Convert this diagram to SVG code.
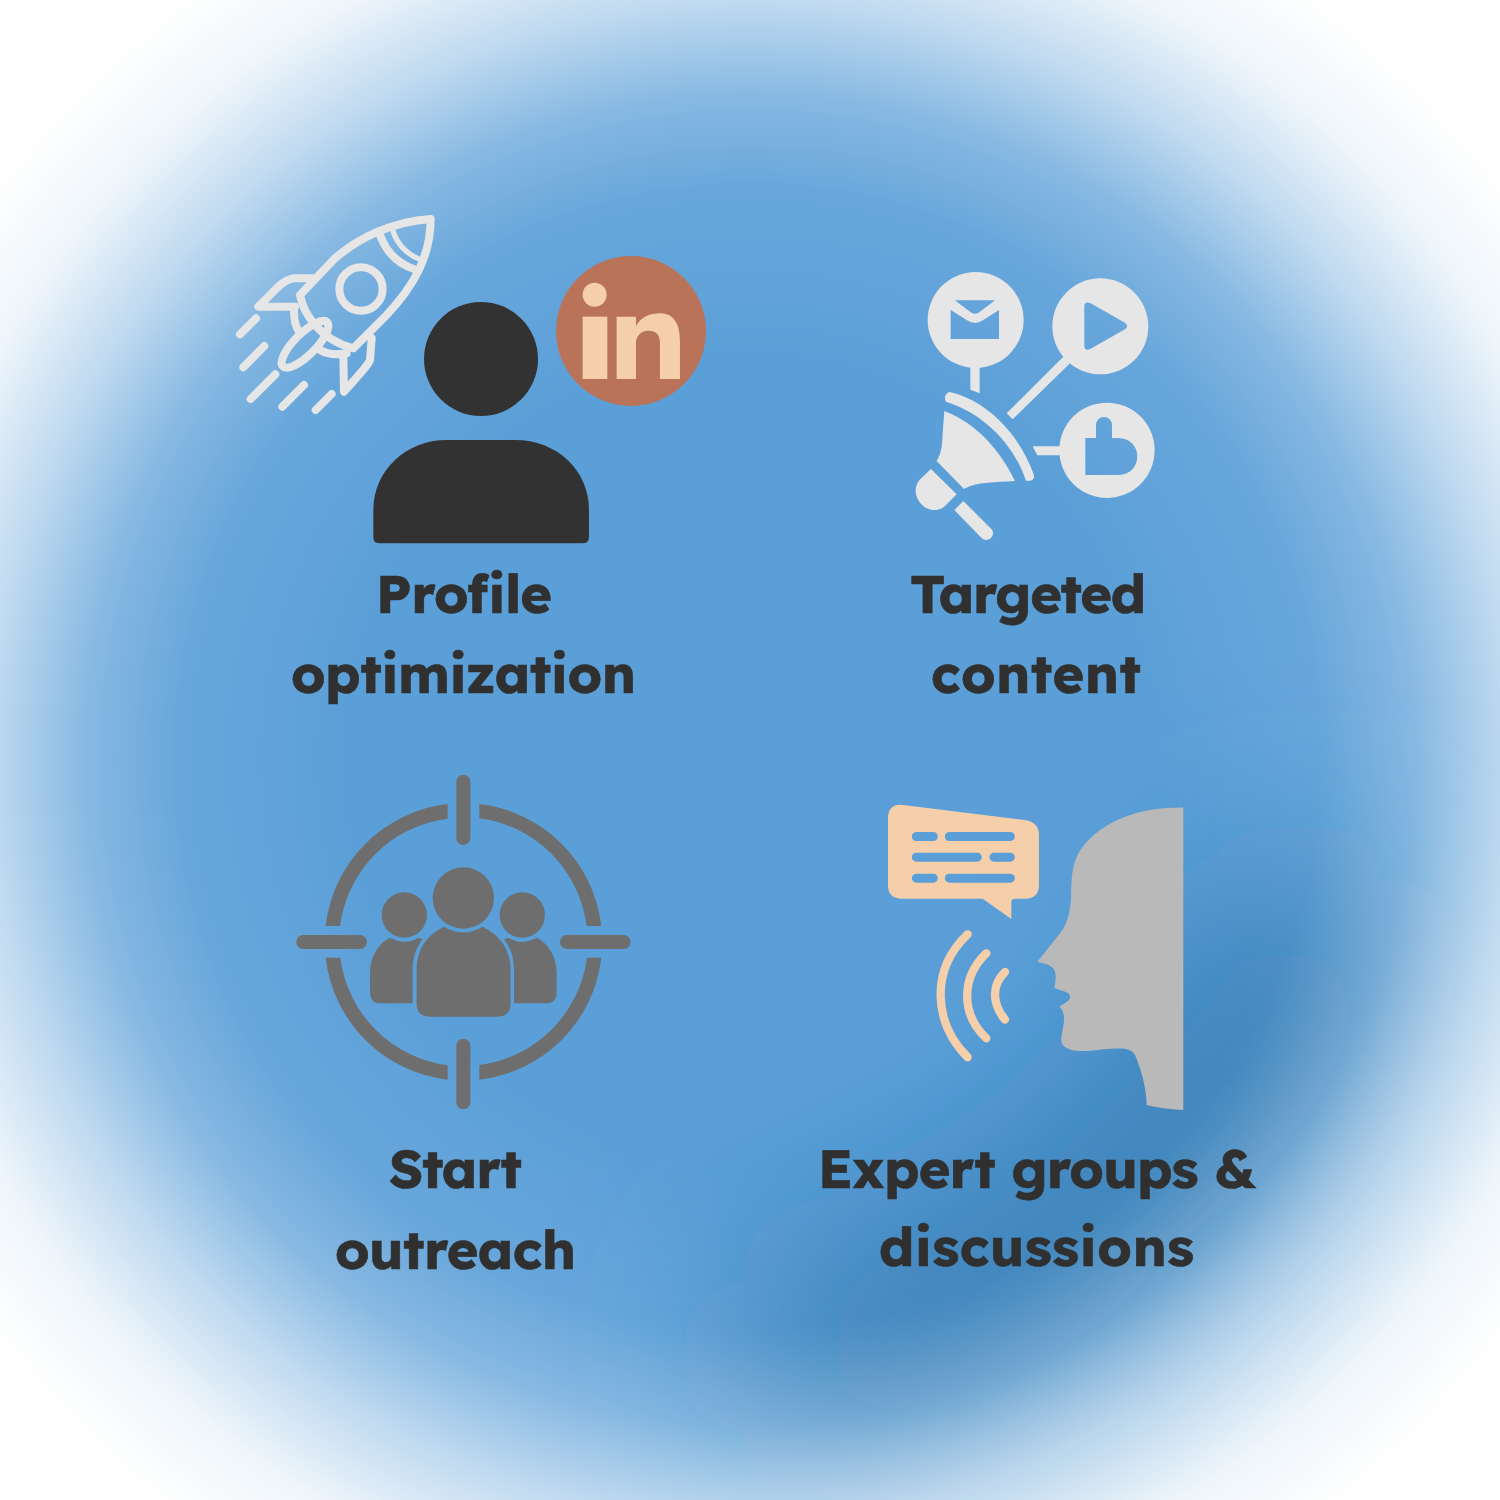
<svg xmlns="http://www.w3.org/2000/svg" width="1500" height="1500" viewBox="0 0 1500 1500">
<style>
.t{font-family:"Lexend","Inter","Liberation Sans",sans-serif;font-weight:700;font-size:54px;fill:#303030;stroke:#303030;stroke-width:.6px}
.ln{fill:none;stroke:#e6e6e6;stroke-width:24;stroke-linecap:round;stroke-linejoin:round}
.lg{fill:#e6e6e6;fill-rule:evenodd}
.tg{fill:#6e6e6e}
.pe{fill:#f5ceaa}
</style>
<defs>
<filter id="soft" filterUnits="userSpaceOnUse" x="0" y="300" width="1800" height="1600"><feGaussianBlur stdDeviation="95"/></filter>
<radialGradient id="vig" gradientUnits="userSpaceOnUse" cx="750" cy="760" r="950">
<stop offset="0" stop-color="#fff" stop-opacity="0"/><stop offset=".42" stop-color="#fff" stop-opacity="0"/><stop offset=".6" stop-color="#fff" stop-opacity=".08"/><stop offset=".7" stop-color="#fff" stop-opacity=".27"/><stop offset=".8" stop-color="#fff" stop-opacity=".62"/><stop offset=".9" stop-color="#fff" stop-opacity=".9"/><stop offset="1" stop-color="#fff"/>
</radialGradient>
<path id="q" d="M107,468A416,416 0 0 1 473,102V146A373,373 0 0 0 150,468Z"/>
<path id="sb" d="M300,503Q345,528 385,503L398,508C380,530 368,560 368,600V700H272Q240,700 240,665V610C240,560 265,520 300,503Z"/>
</defs>
<g id="background">
<rect width="1500" height="1500" fill="#5b9fd8"/>
<path d="M1300,960C1270,1090 1080,1310 830,1360" fill="none" stroke="#1f6ca8" stroke-width="170" stroke-linecap="round" filter="url(#soft)"/>
<rect width="1500" height="1500" fill="url(#vig)"/>
</g>
<g id="profile-optimization">
<g id="rocket" transform="translate(220 200) scale(.3333)">
<path class="ln" d="M632,57C520,65 420,110 345,175L240,285C250,340 300,420 400,445L500,345C580,260 632,170 632,57Z"/>
<path class="ln" d="M280,235H220C190,240 170,265 150,285L115,320H225M455,415L450,480C445,495 430,510 372,575L370,465M480,105C500,160 540,195 590,210M222,335C222,370 230,385 240,400M300,450C325,465 350,465 380,460"/>
<path class="ln" style="stroke-width:16" d="M518,90C530,130 560,165 605,180"/>
<circle class="ln" cx="423" cy="267" r="65"/>
<ellipse class="ln" cx="255" cy="433" rx="94" ry="32" transform="rotate(-45 255 433)"/>
<path class="ln" d="M60,403L108,355M70,502L133,438M92,597L166,523M187,620L252,555M287,630L335,582"/>
</g>
<g id="person" fill="#323232">
<circle cx="481" cy="359" r="57"/>
<path transform="translate(220 200) scale(.3333)" d="M460,1010V930C460,810 560,720 680,720H885C1010,720 1107,810 1107,930V1010Q1107,1030 1087,1030H480Q460,1030 460,1010Z"/>
</g>
<g id="linkedin">
<circle cx="631" cy="331" r="75" fill="#b97359"/>
<g transform="translate(220 200) scale(.3333)" class="pe">
<circle cx="1124" cy="284" r="36"/>
<rect x="1088" y="350" width="74" height="187"/>
<path d="M1190,350H1248V378C1265,350 1290,340 1320,340C1360,340 1380,370 1380,420V537H1320V430C1320,405 1310,392 1285,392C1262,392 1248,410 1248,430V537H1190Z"/>
</g>
</g>
<text class="t" x="464" y="613" text-anchor="middle" textLength="176" lengthAdjust="spacing">Profile</text>
<text class="t" x="463.500" y="693" text-anchor="middle" textLength="345" lengthAdjust="spacing">optimization</text>
</g>
<g id="targeted-content">
<g transform="translate(900 260) scale(.3333)">
<path class="lg" d="M83,180a144,144 0 1 0 288,0a144,144 0 1 0 -288,0ZM165,121H285L240,155Q225,168 210,155ZM152,150L200,180Q225,198 250,180L297,150V237H152Z"/>
<path class="lg" d="M457,199a144,144 0 1 0 288,0a144,144 0 1 0 -288,0ZM553,140Q553,122 572,130L675,188Q688,198 675,208L572,266Q553,276 553,255Z"/>
<path class="lg" d="M478,571a143,143 0 1 0 286,0a143,143 0 1 0 -286,0ZM588,534V495A24,24 0 0 1 636,495V534H655C690,534 712,560 712,588C712,620 690,645 655,645H556V534Z"/>
<path class="lg" d="M211,315H239V400L211,389ZM490,290L510,310L338,478L320,460ZM398,559H480V586H412Z"/>
<path class="lg" d="M148,396C240,415 350,500 402,645Q404,660 390,662H378C340,550 250,460 138,425Q128,405 148,396Z"/>
<path class="lg" d="M133,453C230,490 300,570 345,663C290,667 230,665 192,687L110,603C125,580 127,550 128,520Z"/>
<path class="lg" d="M93,627L170,703L135,738C110,760 75,750 58,725C40,700 45,670 65,653Z"/>
<path class="lg" d="M190,723L275,808A20,20 0 0 1 247,836L163,750Z"/>
</g>
<text class="t" x="1028" y="613" text-anchor="middle" textLength="236" lengthAdjust="spacing">Targeted</text>
<text class="t" x="1036" y="693" text-anchor="middle" textLength="210" lengthAdjust="spacing">content</text>
</g>
<g id="start-outreach">
<g transform="translate(290 770) scale(.3333)" class="tg">
<use href="#q"/><use href="#q" transform="rotate(90 520.500 515.500)"/><use href="#q" transform="rotate(180 520.500 515.500)"/><use href="#q" transform="rotate(270 520.500 515.500)"/>
<path fill="none" stroke="#6e6e6e" stroke-width="42" stroke-linecap="round" d="M520,35V204M520,827V997M40,516H210M831,516H1001"/>
<circle cx="520" cy="384" r="92"/><circle cx="343" cy="435" r="68"/><circle cx="697" cy="435" r="68"/>
<path d="M462,470Q520,505 578,470C630,495 662,540 662,600V700Q662,740 622,740H420Q380,740 380,700V600C380,540 410,495 462,470Z"/>
<use href="#sb"/><use href="#sb" transform="translate(1040 0) scale(-1 1)"/>
</g>
<text class="t" x="455.500" y="1188" text-anchor="middle" textLength="133" lengthAdjust="spacing">Start</text>
<text class="t" x="455.500" y="1269" text-anchor="middle" textLength="241" lengthAdjust="spacing">outreach</text>
</g>
<g id="expert-groups">
<g transform="translate(870 790) scale(.3333)">
<path class="pe" fill-rule="evenodd" d="M100,45L465,90Q507,97 507,135V285Q507,326 465,326H435Q424,326 424,338V387L338,326H95Q54,326 54,285V85Q54,40 100,45ZM139,126H190a13.500,13.500 0 0 1 0,27H139a13.500,13.500 0 0 1 0,-27ZM238,126H421a13.500,13.500 0 0 1 0,27H238a13.500,13.500 0 0 1 0,-27ZM139,188H322a13.500,13.500 0 0 1 0,27H139a13.500,13.500 0 0 1 0,-27ZM372,188H421a13.500,13.500 0 0 1 0,27H372a13.500,13.500 0 0 1 0,-27ZM139,251H190a13.500,13.500 0 0 1 0,27H139a13.500,13.500 0 0 1 0,-27ZM238,251H421a13.500,13.500 0 0 1 0,27H238a13.500,13.500 0 0 1 0,-27Z"/>
<path fill="none" stroke="#f5ceaa" stroke-width="25" stroke-linecap="round" d="M293,433C180,540 190,700 293,802M349,490C275,560 270,670 349,745M405,546C365,585 365,640 405,689"/>
<path fill="#b9b9b9" d="M940,53V960C900,958 860,953 830,945C830,890 810,830 795,795C780,770 750,775 700,778C650,785 590,790 575,760C570,740 585,700 582,680C580,665 575,655 568,650L595,632Q606,620 595,610C580,600 565,600 553,593C558,570 560,550 550,535C535,520 515,520 502,515L570,430C590,405 600,370 603,330C605,290 600,240 625,190C680,100 800,50 940,53Z"/>
</g>
<text class="t" x="1037" y="1188" text-anchor="middle" textLength="438" lengthAdjust="spacing">Expert groups &amp;</text>
<text class="t" x="1036.500" y="1266" text-anchor="middle" textLength="315" lengthAdjust="spacing">discussions</text>
</g>
<g id="connectors"/>
</svg>
